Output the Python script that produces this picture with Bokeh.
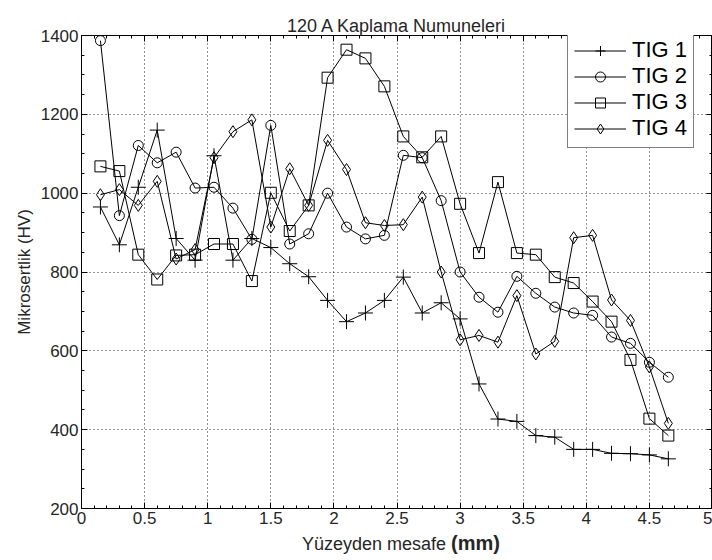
from bokeh.plotting import figure
from bokeh.layouts import column
from bokeh.models import (Range1d, LinearAxis, Legend, LegendItem, Div,
                          SingleIntervalTicker, NumeralTickFormatter,
                          CustomJSTickFormatter)
from bokeh.embed import file_html
from bokeh.resources import INLINE

# distance from surface (mm)
distance = [0.15, 0.30, 0.45, 0.60, 0.75, 0.90, 1.05, 1.20, 1.35, 1.50,
            1.65, 1.80, 1.95, 2.10, 2.25, 2.40, 2.55, 2.70, 2.85, 3.00,
            3.15, 3.30, 3.45, 3.60, 3.75, 3.90, 4.05, 4.20, 4.35, 4.50, 4.65]

tig1 = [965, 869, 1015, 1160, 885, 830, 1095, 830, 885, 862,
        821, 788, 728, 674, 696, 728, 787, 696, 722, 681,
        516, 427, 421, 385, 381, 350, 350, 340, 339, 336, 326]
tig2 = [1387, 943, 1121, 1077, 1104, 1013, 1015, 962, 883, 1172,
        871, 897, 1000, 914, 884, 893, 1096, 1090, 981, 800,
        736, 698, 789, 746, 711, 696, 690, 635, 619, 571, 533]
tig3 = [1068, 1056, 844, 781, 842, 844, 871, 871, 777, 1001,
        904, 969, 1293, 1364, 1342, 1271, 1144, 1091, 1144, 973,
        848, 1028, 848, 844, 787, 772, 725, 674, 577, 428, 385]
tig4 = [996, 1009, 969, 1030, 833, 857, 1090, 1156, 1186, 914,
        1062, 969, 1134, 1060, 925, 918, 920, 990, 800, 628,
        639, 622, 740, 592, 624, 887, 893, 729, 677, 559, 416]

series_names = ["TIG 1", "TIG 2", "TIG 3", "TIG 4"]
series_values = [tig1, tig2, tig3, tig4]
markers = ["cross", "circle", "square", "diamond"]
marker_sizes = [15, 10, 11, 12]

FONT = "Liberation Sans"
TXT = "#262626"

p = figure(width=712, height=532, output_backend="svg", toolbar_location=None,
           x_range=Range1d(0, 5), y_range=Range1d(200, 1400),
           min_border_left=81, min_border_top=35, min_border_bottom=24,
           min_border_right=0, title="120 A Kaplama Numuneleri")

p.title.align = "center"
p.title.text_font = FONT
p.title.text_font_size = "18px"
p.title.text_font_style = "normal"
p.title.text_color = TXT
p.title.standoff = 0
p.title.offset = 0

p.outline_line_color = "black"
p.outline_line_width = 1
p.background_fill_color = "white"
p.border_fill_color = "white"

xt = SingleIntervalTicker(interval=0.5, num_minor_ticks=5)
yt = SingleIntervalTicker(interval=200, num_minor_ticks=4)
p.xaxis.ticker = xt
p.yaxis.ticker = yt
p.xaxis.formatter = NumeralTickFormatter(format="0.[0]")

for ax in (p.xaxis[0], p.yaxis[0]):
    ax.axis_line_color = "black"
    ax.major_tick_line_color = "black"
    ax.minor_tick_line_color = "black"
    ax.major_tick_in = 6
    ax.major_tick_out = 0
    ax.minor_tick_in = 3
    ax.minor_tick_out = 0
    ax.major_label_text_font = FONT
    ax.major_label_text_font_size = "17px"
    ax.major_label_text_color = TXT

p.xaxis.major_label_standoff = 3
p.yaxis.major_label_standoff = 3
p.yaxis.axis_label = "Mikrosertlik (HV)"
p.yaxis.axis_label_text_font = FONT
p.yaxis.axis_label_text_font_size = "17px"
p.yaxis.axis_label_text_font_style = "normal"
p.yaxis.axis_label_text_color = TXT
p.yaxis.axis_label_standoff = 4

# top and right axes: inward ticks only, no labels
blank = CustomJSTickFormatter(code="return ''")
top = LinearAxis(ticker=SingleIntervalTicker(interval=0.5, num_minor_ticks=5),
                 formatter=blank, major_label_standoff=7,
                 major_tick_in=6, major_tick_out=0, minor_tick_in=3, minor_tick_out=0,
                 axis_line_color="black")
right = LinearAxis(ticker=SingleIntervalTicker(interval=200, num_minor_ticks=4),
                   formatter=blank, major_label_standoff=0,
                   major_tick_in=6, major_tick_out=0, minor_tick_in=3, minor_tick_out=0,
                   axis_line_color="black")
p.add_layout(top, "above")
p.add_layout(right, "right")

p.xgrid.grid_line_color = "black"
p.ygrid.grid_line_color = "black"
p.xgrid.grid_line_dash = "1 3"
p.ygrid.grid_line_dash = "1 3"
p.xgrid.grid_line_alpha = 0.85
p.ygrid.grid_line_alpha = 0.85

items = []
for name, vals, mk, ms in zip(series_names, series_values, markers, marker_sizes):
    lr = p.line(distance, vals, line_color="black", line_width=1)
    sr = p.scatter(distance, vals, marker=mk, size=ms, line_color="black",
                   fill_color=None, line_width=1)
    items.append(LegendItem(label=name, renderers=[lr, sr]))

legend = Legend(items=items, location=(486, 360), margin=0,
                label_text_font=FONT, label_text_font_size="22px",
                label_text_color="black", label_height=25, glyph_height=25,
                glyph_width=52, label_standoff=6, spacing=0, padding=6,
                border_line_color="black", border_line_width=1,
                background_fill_color="white", background_fill_alpha=1)
p.add_layout(legend, "center")

# x-axis title below the figure: plain text plus bold unit
xlabel = Div(
    text=('<div style="padding-left:302px; font-family:\'Liberation Sans\', Arial, sans-serif; '
          'font-size:18px; color:#262626; line-height:22px; white-space:nowrap;">'
          'Yüzeyden mesafe <b style="font-size:20px;">(mm)</b></div>'),
    width=712, height=26, margin=0)

layout = column(p, xlabel, spacing=0)

open("out.html", "w").write(file_html(layout, INLINE))
